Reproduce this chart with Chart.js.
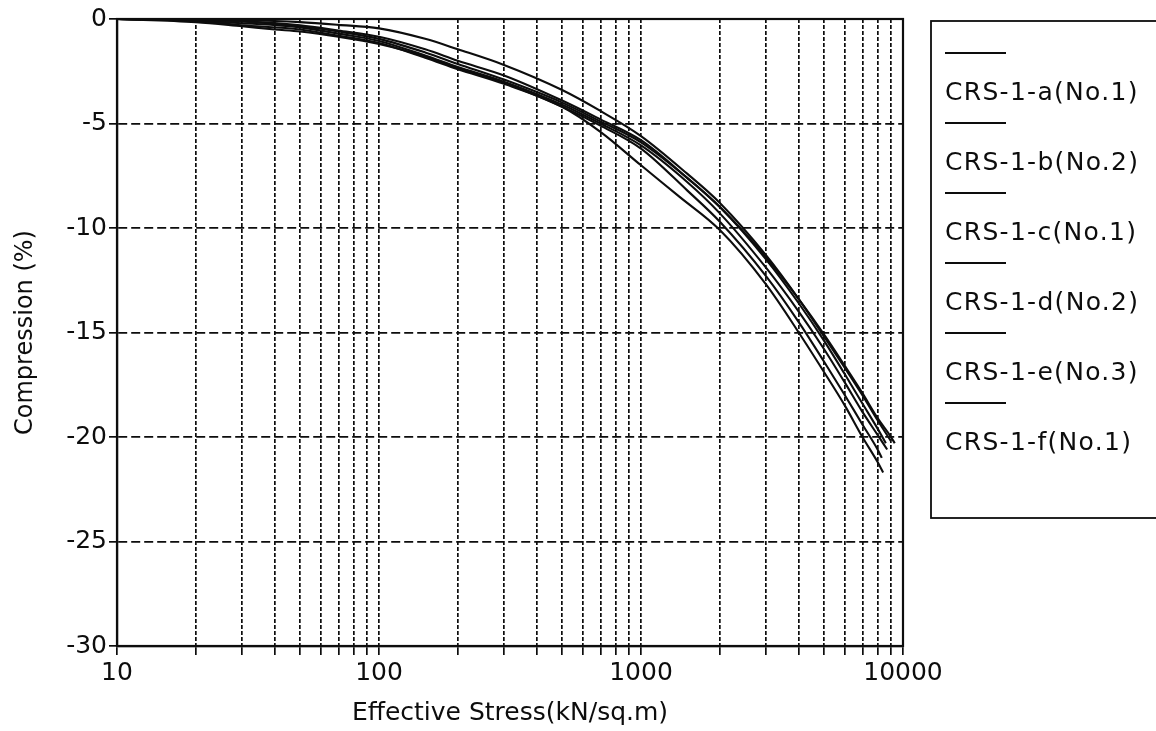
<!DOCTYPE html>
<html>
<head>
<meta charset="utf-8">
<script src="https://cdn.jsdelivr.net/npm/chart.js@4/dist/chart.umd.min.js"></script>
<style>
  html, body { margin: 0; padding: 0; background: #ffffff; }
  #wrap { width: 1156px; height: 731px; position: relative; }
</style>
</head>
<body>
<div id="wrap"><canvas id="chart" width="1156" height="731"></canvas></div>
<script>
// Log-scale stress grid (kN/sq.m) and the decades that carry a label
const stressTicks = [10, 20, 30, 40, 50, 60, 70, 80, 90,
                     100, 200, 300, 400, 500, 600, 700, 800, 900,
                     1000, 2000, 3000, 4000, 5000, 6000, 7000, 8000, 9000, 10000];
const stressLabels = [10, 100, 1000, 10000];

const seriesNames = ['CRS-1-a(No.1)', 'CRS-1-b(No.2)', 'CRS-1-c(No.1)',
                     'CRS-1-d(No.2)', 'CRS-1-e(No.3)', 'CRS-1-f(No.1)'];

// CRS-1-a(No.1)
const stressA = [10, 20, 30, 50, 70, 100, 150, 200, 300, 500, 700, 1000, 1500, 2000, 3000, 4000, 5000, 6000, 7000, 8000, 9000];
const compA   = [0, -0.02, -0.05, -0.15, -0.28, -0.45, -0.95, -1.45, -2.2, -3.4, -4.4, -5.6, -7.4, -8.8, -11.3, -13.4, -15.2, -16.7, -18.0, -19.2, -20.2];
// CRS-1-b(No.2)
const stressB = [10, 20, 30, 50, 70, 100, 150, 200, 300, 500, 700, 1000, 1500, 2000, 3000, 4000, 5000, 6000, 7000, 8000, 8600];
const compB   = [0, -0.05, -0.12, -0.3, -0.55, -0.85, -1.45, -2.0, -2.7, -3.9, -4.8, -5.8, -7.6, -9.0, -11.5, -13.6, -15.4, -17.0, -18.4, -19.6, -20.3];
// CRS-1-c(No.1)
const stressC = [10, 20, 30, 50, 70, 100, 150, 200, 300, 500, 700, 1000, 1500, 2000, 3000, 4000, 5000, 6000, 7000, 8000, 9000, 9300];
const compC   = [0, -0.05, -0.1, -0.35, -0.6, -0.95, -1.6, -2.15, -2.9, -4.0, -4.9, -5.9, -7.6, -9.0, -11.4, -13.4, -15.1, -16.6, -17.9, -19.1, -20.0, -20.3];
// CRS-1-d(No.2)
const stressD = [10, 20, 30, 50, 70, 100, 150, 200, 300, 500, 700, 1000, 1500, 2000, 3000, 4000, 5000, 6000, 7000, 8000, 8700];
const compD   = [0, -0.08, -0.2, -0.4, -0.7, -1.05, -1.75, -2.3, -3.0, -4.1, -5.0, -6.05, -7.8, -9.3, -11.9, -14.0, -15.8, -17.4, -18.8, -19.9, -20.6];
// CRS-1-e(No.3)
const stressE = [10, 20, 30, 50, 70, 100, 150, 200, 300, 500, 700, 1000, 1400, 2000, 3000, 4000, 5000, 6000, 7000, 8000, 8400];
const compE   = [0, -0.1, -0.3, -0.5, -0.8, -1.15, -1.85, -2.4, -3.1, -4.2, -5.4, -7.0, -8.5, -10.1, -12.7, -15.0, -16.9, -18.5, -20.0, -21.2, -21.7];
// CRS-1-f(No.1)
const stressF = [10, 20, 30, 40, 50, 70, 100, 150, 200, 300, 500, 700, 1000, 1500, 2000, 3000, 4000, 5000, 6000, 7000, 8000, 8300];
const compF   = [0, -0.15, -0.35, -0.5, -0.6, -0.85, -1.2, -1.8, -2.35, -3.05, -4.2, -5.1, -6.2, -8.2, -9.7, -12.3, -14.5, -16.4, -18.0, -19.4, -20.6, -21.0];

const stressSets = [stressA, stressB, stressC, stressD, stressE, stressF];
const compSets   = [compA, compB, compC, compD, compE, compF];

const INK = '#0d0d0d';
const FONT = 'DejaVu Sans';

const datasets = seriesNames.map((name, i) => ({
  label: name,
  data: stressSets[i].map((s, j) => ({ x: s, y: compSets[i][j] })),
  borderColor: INK,
  borderWidth: 2.1,
  pointRadius: 0,
  fill: false,
  cubicInterpolationMode: 'monotone'
}));

// Boxed frame around the plot plus the boxed legend on the right
const framePlugin = {
  id: 'frameAndLegend',
  afterDraw(chart) {
    const { ctx, chartArea: a } = chart;
    ctx.save();
    ctx.strokeStyle = INK;
    ctx.lineWidth = 2.2;
    ctx.strokeRect(a.left, a.top, a.right - a.left, a.bottom - a.top);

    // legend box
    ctx.lineWidth = 1.8;
    ctx.strokeRect(931, 21, 240, 497);
    ctx.fillStyle = INK;
    ctx.font = '25px "' + FONT + '"';
    if ('letterSpacing' in ctx) ctx.letterSpacing = '1.3px';
    ctx.textBaseline = 'alphabetic';
    ctx.textAlign = 'left';
    chart.data.datasets.forEach((ds, i) => {
      const ly = 53 + 70 * i;
      ctx.lineWidth = 1.8;
      ctx.beginPath();
      ctx.moveTo(945, ly);
      ctx.lineTo(1006, ly);
      ctx.stroke();
      ctx.fillText(ds.label, 945, 100 + 70 * i);
    });
    ctx.restore();
  }
};

new Chart(document.getElementById('chart'), {
  type: 'line',
  data: { datasets },
  plugins: [framePlugin],
  options: {
    responsive: false,
    animation: false,
    layout: { padding: { left: 0, right: 253, top: 19, bottom: 0 } },
    plugins: { legend: { display: false }, tooltip: { enabled: false } },
    scales: {
      x: {
        type: 'logarithmic',
        min: 10,
        max: 10000,
        afterBuildTicks: (scale) => {
          scale.ticks = stressTicks.map(v => ({ value: v, major: stressLabels.includes(v) }));
        },
        afterFit: (scale) => { scale.height = 85; },
        ticks: {
          autoSkip: false,
          maxRotation: 0,
          padding: 3,
          color: INK,
          font: { family: FONT, size: 25 },
          callback: (v) => stressLabels.includes(v) ? String(v) : ''
        },
        grid: {
          color: INK,
          lineWidth: 1.7,
          tickLength: 9,
          tickColor: INK,
          tickWidth: 1.7
        },
        border: { display: true, color: INK, width: 2.2, dash: [4, 2] },
        title: {
          display: true,
          text: 'Effective Stress(kN/sq.m)',
          color: INK,
          font: { family: FONT, size: 25 },
          padding: { top: 0, bottom: 3 }
        }
      },
      y: {
        type: 'linear',
        min: -30,
        max: 0,
        afterFit: (scale) => { scale.width = 117; },
        ticks: {
          stepSize: 5,
          padding: 2,
          color: INK,
          font: { family: FONT, size: 25 }
        },
        grid: {
          color: INK,
          lineWidth: 1.7,
          tickLength: 8,
          tickColor: INK,
          tickWidth: 1.7
        },
        border: { display: true, color: INK, width: 2.2, dash: [9, 4] },
        title: {
          display: true,
          text: 'Compression (%)',
          color: INK,
          font: { family: FONT, size: 24 },
          padding: { top: 11, bottom: 0 }
        }
      }
    }
  }
});
</script>
</body>
</html>
